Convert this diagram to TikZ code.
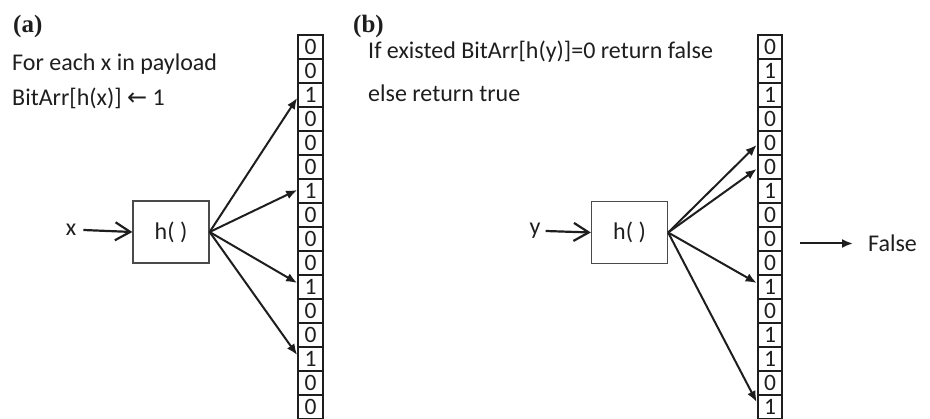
\documentclass[tikz,border=0pt]{standalone}
\usepackage{fontspec}
\setmainfont{Carlito}
\newfontfamily\labfont{Liberation Serif}
\newfontfamily\symfont{DejaVu Sans}
\usetikzlibrary{arrows.meta}
\definecolor{ink}{HTML}{1E1E1E}
\definecolor{boxgray}{HTML}{4A4A4A}
\begin{document}
\begin{tikzpicture}[x=1pt,y=-1pt,
  txt/.style={font=\fontsize{24}{28}\selectfont, text=ink, inner sep=0pt},
  panel/.style={font=\labfont\bfseries\fontsize{25}{30}\selectfont, text=ink, inner sep=0pt},
  cell/.style={draw=ink, line width=2.2pt, minimum width=24.5pt, minimum height=24pt, inner sep=0pt, font=\fontsize{23.5}{28}\selectfont, text=ink},
  hbox/.style={draw=boxgray, line width=1.3pt, minimum width=76pt, minimum height=62pt, inner sep=0pt, font=\fontsize{24}{28}\selectfont, text=ink},
  fan/.style={line width=2pt, draw=ink, -{Latex[length=11pt,width=9pt]}},
  inarrow/.style={line width=2.2pt, draw=ink, -{Straight Barb[length=15pt,width=18pt]}},
  outarrow/.style={line width=2pt, draw=ink, -{Latex[length=11pt,width=9pt]}},
]
\useasboundingbox (0,0) rectangle (930,419);

% panel (a)
\node[panel, anchor=base west] (pa) at (13,33) {(a)};
\node[txt, anchor=base west] (ta1) at (12,70.5) {For each x in payload};
\node[txt, anchor=base west] (ta2) at (12,106) {BitArr[h(x)] {\symfont\fontsize{24}{28}\selectfont ←} 1};

\foreach \v [count=\i from 0] in {0,0,1,0,0,0,1,0,0,0,1,0,0,1,0,0}
  \node[cell] (a\i) at (310.5,{35+24*\i+12}) {\v};

\node[hbox] (ha) at (171,232) {h( )};
\node[txt, inner xsep=7pt] (xa) at (71,230) {x};
\draw[inarrow] (xa.east) -- (ha.west);

\draw[fan] (ha.east) -- ([yshift=-3pt]a2.west);
\draw[fan] (ha.east) -- ([yshift=1pt]a6.west);
\draw[fan] (ha.east) -- ([yshift=4pt]a10.west);
\draw[fan] (ha.east) -- ([yshift=4pt]a13.west);

% panel (b)
\node[panel, anchor=base west] (pb) at (353,33) {(b)};
\node[txt, anchor=base west] (tb1) at (368,59) {If existed BitArr[h(y)]=0 return false};
\node[txt, anchor=base west] (tb2) at (368,102) {else return true};

\foreach \v [count=\i from 0] in {0,1,1,0,0,0,1,0,0,0,1,0,1,1,0,1}
  \node[cell] (b\i) at (770,{35+24*\i+12}) {\v};

\node[hbox] (hb) at (629.5,232.5) {h( )};
\node[txt, inner xsep=5pt] (yb) at (535,231) {y};
\draw[inarrow] (yb.east) -- (hb.west);

\draw[fan] (hb.east) -- ([yshift=-2pt]b4.west);
\draw[fan] (hb.east) -- ([yshift=-2pt]b5.west);
\draw[fan] (hb.east) -- ([yshift=4pt]b10.west);
\draw[fan] (hb.east) -- ([yshift=5pt]b15.west);

\coordinate (fs) at (800,243.5);
\node[txt, anchor=west, inner xsep=0pt] (false) at (868,243.5) {False};
\draw[outarrow, shorten >=15pt] (fs) -- (false.west);
\end{tikzpicture}
\end{document}
